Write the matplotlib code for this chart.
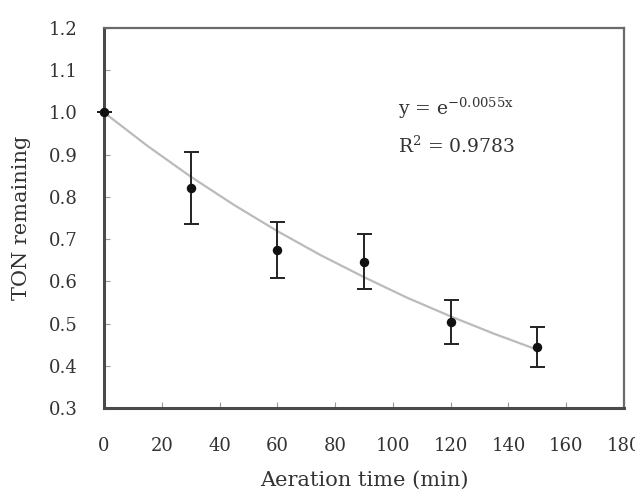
import matplotlib
matplotlib.use("Agg")
import matplotlib.pyplot as plt

plt.rcParams['font.family'] = ['DejaVu Serif']
plt.rcParams['mathtext.fontset'] = 'dejavuserif'

# Data
time_min = [0, 30, 60, 90, 120, 150]
ton_remaining = [1.0, 0.822, 0.674, 0.647, 0.504, 0.445]
ton_err = [0.0, 0.085, 0.067, 0.066, 0.052, 0.047]

# Trendline points (y = e^-0.0055x)
fit_x = [0, 15, 30, 45, 60, 75, 90, 105, 120, 135, 150]
fit_y = [1.0, 0.921, 0.848, 0.781, 0.719, 0.662, 0.610, 0.561, 0.517, 0.476, 0.438]

x_ticks = [0, 20, 40, 60, 80, 100, 120, 140, 160, 180]
y_ticks = [0.3, 0.4, 0.5, 0.6, 0.7, 0.8, 0.9, 1.0, 1.1, 1.2]

fig = plt.figure(figsize=(6.35, 4.96), dpi=100)
ax = fig.add_axes([0.1638, 0.1774, 0.8189, 0.7661])

ax.plot(fit_x, fit_y, color='#bbbbbb', lw=1.6, zorder=2)
ax.errorbar(time_min, ton_remaining, yerr=ton_err, fmt='o', color='#111111',
            ecolor='#222222', elinewidth=1.4, capsize=5.4, capthick=1.4,
            markersize=5.8, zorder=3, clip_on=False)

ax.set_xlim(0, 180)
ax.set_ylim(0.3, 1.2)
ax.set_xticks(x_ticks)
ax.set_yticks(y_ticks)
ax.set_xticklabels([str(v) for v in x_ticks])
ax.set_yticklabels([f"{v:.1f}" for v in y_ticks])
ax.tick_params(direction='in', length=4, width=0.8, colors='#999999',
               labelcolor='#333333', labelsize=13)
ax.tick_params(axis='x', pad=21)
ax.tick_params(axis='y', pad=19)

for side in ['left', 'bottom']:
    ax.spines[side].set_linewidth(2.2)
    ax.spines[side].set_color('#4a4a4a')
for side in ['top', 'right']:
    ax.spines[side].set_linewidth(1.6)
    ax.spines[side].set_color('#6a6a6a')

ax.set_xlabel('Aeration time (min)', fontsize=15, color='#333333', labelpad=11)
ax.set_ylabel('TON remaining', fontsize=15, color='#333333', labelpad=13)

ax.text(0.565, 0.771, r'y = e$^{\mathrm{-0.0055x}}$', transform=ax.transAxes,
        fontsize=13.5, color='#333333')
ax.text(0.565, 0.671, r'R$^{2}$ = 0.9783', transform=ax.transAxes,
        fontsize=13.5, color='#333333')

fig.savefig('out.png', dpi=100)
